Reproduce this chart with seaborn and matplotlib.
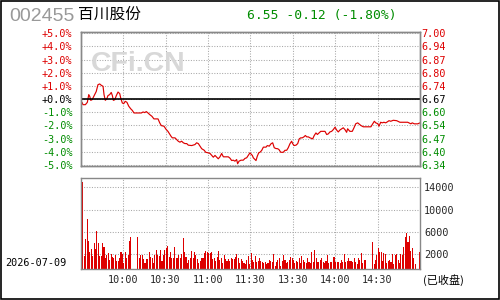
import numpy as np
import matplotlib
matplotlib.use("Agg")
import matplotlib.pyplot as plt
import seaborn as sns

# 行情数据
prev_close = 6.67
header_code = "002455"
header_name = "百川股份"
header_quote = "6.55 -0.12 (-1.80%)"
trade_date = "2026-07-09"
status_text = "(已收盘)"

pct_ticks = [5, 4, 3, 2, 1, 0, -1, -2, -3, -4, -5]

# 分时价格: 交易分钟 (0-240) 与价格
price_minutes = [
    0.9, 1.6, 3.3, 4.7, 5.7, 6.4, 7.1, 8.0, 8.7, 9.9, 11.0, 12.2, 13.4, 14.6,
    15.8, 16.5, 17.4, 18.4, 19.3, 20.5, 21.6, 22.4, 23.1, 24.1, 25.2, 26.4,
    27.6, 28.3, 29.4, 30.4, 31.5, 32.7, 34.0, 35.4, 36.5, 37.7, 42.9, 44.1,
    45.3, 46.4, 47.6, 48.8, 50.4, 51.8, 54.7, 55.9, 57.0, 58.9, 60.5, 61.7,
    63.9, 64.8, 66.7, 67.9, 69.0, 70.2, 71.4, 72.6, 73.8, 75.0, 76.1, 78.5,
    80.8, 82.0, 83.2, 84.4, 85.6, 87.4, 88.4, 90.3, 91.5, 92.7, 93.8, 95.0,
    96.2, 97.3, 98.5, 99.7, 100.9, 104.4, 105.6, 106.8, 107.9, 109.1, 110.3,
    111.0, 112.0, 113.4, 115.0, 116.2, 117.4, 118.5, 119.7, 121.4, 122.1,
    123.3, 124.0, 124.9, 125.9, 126.8, 128.0, 129.2, 131.1, 132.0, 133.4,
    134.6, 135.8, 136.9, 138.1, 139.3, 140.2, 141.5, 143.3, 144.5, 145.7,
    146.8, 148.0, 149.2, 149.9, 150.9, 152.3, 153.5, 154.6, 155.6, 156.7,
    157.9, 158.9, 159.9, 161.0, 162.2, 164.1, 165.2, 166.4, 167.4, 168.6,
    169.8, 171.6, 172.8, 174.0, 175.1, 176.3, 177.5, 178.7, 179.9, 181.1,
    182.2, 183.4, 184.6, 185.7, 186.9, 188.1, 188.8, 190.4, 192.1, 193.3,
    194.5, 195.9, 196.8, 198.3, 199.9, 205.3, 206.2, 207.7, 208.7, 210.1,
    211.0, 212.2, 213.3, 214.5, 215.7, 216.9, 218.1, 219.3, 221.1, 223.5,
    225.8, 231.3, 232.2, 233.6, 234.5, 236.0, 238.4, 240.0,
]
price_values = [
    6.654, 6.642, 6.642, 6.654, 6.693, 6.684, 6.664, 6.667, 6.676, 6.693,
    6.709, 6.743, 6.747, 6.740, 6.735, 6.693, 6.664, 6.671, 6.688, 6.693,
    6.704, 6.688, 6.664, 6.667, 6.688, 6.706, 6.698, 6.676, 6.651, 6.647,
    6.659, 6.654, 6.634, 6.621, 6.613, 6.600, 6.600, 6.605, 6.602, 6.607,
    6.600, 6.592, 6.583, 6.570, 6.570, 6.550, 6.536, 6.533, 6.516, 6.507,
    6.482, 6.474, 6.474, 6.465, 6.457, 6.452, 6.457, 6.449, 6.445, 6.445,
    6.437, 6.435, 6.440, 6.449, 6.445, 6.432, 6.419, 6.411, 6.401, 6.398,
    6.395, 6.385, 6.376, 6.385, 6.376, 6.368, 6.378, 6.395, 6.378, 6.378,
    6.371, 6.359, 6.361, 6.356, 6.364, 6.343, 6.356, 6.361, 6.361, 6.370,
    6.373, 6.385, 6.398, 6.385, 6.373, 6.364, 6.359, 6.381, 6.398, 6.401,
    6.410, 6.427, 6.427, 6.435, 6.432, 6.444, 6.449, 6.424, 6.420, 6.419,
    6.415, 6.401, 6.401, 6.411, 6.411, 6.424, 6.444, 6.457, 6.445, 6.435,
    6.437, 6.445, 6.469, 6.474, 6.474, 6.479, 6.486, 6.479, 6.479, 6.474,
    6.469, 6.486, 6.499, 6.491, 6.499, 6.507, 6.507, 6.507, 6.491, 6.494,
    6.504, 6.507, 6.516, 6.528, 6.513, 6.504, 6.514, 6.520, 6.525, 6.516,
    6.502, 6.520, 6.507, 6.507, 6.525, 6.545, 6.550, 6.545, 6.536, 6.530,
    6.530, 6.541, 6.558, 6.550, 6.546, 6.533, 6.553, 6.550, 6.553, 6.550,
    6.555, 6.561, 6.558, 6.563, 6.561, 6.553, 6.553, 6.550, 6.545, 6.550,
    6.545, 6.545, 6.550,
]

# 每分钟成交量 (上午 9:30-11:30, 下午 13:00-15:00)
vol_am = [
    2750, 15700, 2390, 5430, 9010, 5070, 3040, 3640, 2390, 4660,
    3640, 6870, 4660, 2390, 2390, 4660, 4060, 1970, 2570, 2870,
    1670, 2690, 2270, 1970, 2570, 1550, 1490, 2090, 3040, 2750,
    1070, 3040, 2090, 2570, 5070, 5790, 0, 0, 0, 0,
    5790, 1970, 2570, 2570, 1850, 1070, 1850, 1850, 3040, 2270,
    1970, 1070, 2570, 3460, 2570, 2450, 3460, 1490, 2570, 3460,
    3880, 4240, 2270, 3040, 2090, 1970, 4060, 1970, 2090, 2570,
    1970, 2690, 5670, 3040, 2270, 1070, 1670, 2090, 3280, 2090,
    3040, 2570, 1850, 1070, 1490, 2090, 1970, 2870, 3280, 3040,
    2870, 2870, 3040, 1850, 2090, 1490, 2270, 3280, 1670, 2090,
    1070, 2570, 1850, 1490, 1850, 1490, 1970, 1850, 1850, 2270,
    2690, 2090, 1070, 1850, 1490, 1070, 900, 1670, 2450, 900,
]
vol_pm = [
    2990, 1670, 1250, 2450, 1250, 1490, 2090, 1490, 1370, 1070,
    1250, 900, 1070, 1670, 1490, 1370, 2750, 660, 1250, 1670,
    2090, 660, 1490, 2570, 1670, 1070, 1250, 1670, 2270, 1970,
    1670, 1070, 1490, 1250, 1970, 1070, 2450, 1670, 1370, 1070,
    1970, 1250, 1070, 3160, 1250, 3460, 1970, 1250, 1370, 1670,
    1970, 1250, 1070, 1490, 2570, 1070, 1370, 1250, 2270, 2270,
    1370, 1250, 1250, 1070, 1670, 1370, 2750, 1250, 1490, 1970,
    1490, 1490, 1250, 1970, 1250, 900, 1970, 1670, 2990, 1070,
    1670, 1670, 0, 0, 0, 0, 4960, 900, 1670, 2570,
    3880, 3160, 3040, 1490, 2870, 2690, 1070, 1490, 1670, 1250,
    2690, 900, 2570, 2690, 1670, 1070, 2690, 2570, 4060, 5850,
    6450, 4960, 5970, 3280, 3880, 2090, 900, 0, 0, 3160,
]

time_ticks = [30, 60, 90, 120, 150, 180, 210]
time_labels = ["10:00", "10:30", "11:00", "11:30", "13:30", "14:00", "14:30"]
vol_tick_labels = ["2000", "6000", "10000", "14000"]
vol_tick_pos = [2700, 6700, 10700, 14700]

RED = "#dd0000"
GREEN = "#008c00"
GRID = "#a8a8a8"
FRAME = "#888888"

sns.set_style("white")
plt.rcParams["font.family"] = ["DejaVu Sans Mono", "Noto Sans CJK SC"]

W, H = 500, 300
fig = plt.figure(figsize=(W / 100, H / 100), dpi=100)


def box(x0, y0, x1, y1):
    # 像素坐标 -> figure 比例
    return [x0 / W, 1 - y1 / H, (x1 - x0) / W, (y1 - y0) / H]


ax = fig.add_axes(box(80.7, 32.3, 420, 166))
axv = fig.add_axes(box(80.7, 178.3, 420, 269.3))
ax_pct = ax.twinx()

# ---- 价格 ----
lo = prev_close * 0.95 - 0.005
hi = prev_close * 1.05 + 0.005
sns.lineplot(x=price_minutes, y=price_values, ax=ax, color=RED, linewidth=0.85)
ax.axhline(prev_close, color="black", linewidth=1.2, zorder=3)
ax.set_xlim(0, 240)
ax.set_ylim(lo, hi)
price_ticks = [prev_close * (1 + p / 100) for p in pct_ticks]
ax.set_yticks(price_ticks)
ax.set_yticklabels([f"{v:.2f}" for v in price_ticks])
ax.set_xticks(time_ticks)
ax.set_xticklabels([])
ax.yaxis.tick_right()
ax.tick_params(axis="both", length=0, labelsize=7.3, pad=1.2)
for lab, p in zip(ax.get_yticklabels(), pct_ticks):
    lab.set_color(RED if p > 0 else (GREEN if p < 0 else "black"))
ax.grid(True, color=GRID, linestyle=(0, (1, 1.5)), linewidth=0.75)
ax.set_xlabel("")
ax.set_ylabel("")

ax_pct.set_ylim((lo / prev_close - 1) * 100, (hi / prev_close - 1) * 100)
ax_pct.set_yticks(pct_ticks)
ax_pct.set_yticklabels([f"{p:+.1f}%" for p in pct_ticks])
ax_pct.yaxis.tick_left()
ax_pct.tick_params(axis="y", length=0, labelsize=7.3, pad=6)
for lab, p in zip(ax_pct.get_yticklabels(), pct_ticks):
    lab.set_color(RED if p > 0 else (GREEN if p < 0 else "black"))

for a in (ax, ax_pct):
    for s in a.spines.values():
        s.set_color(FRAME)
        s.set_linewidth(1.0)

# ---- 成交量 ----
vol = vol_am + vol_pm
vol_minutes = np.arange(len(vol)) + 0.5
sns.histplot(x=vol_minutes, weights=vol, bins=240, binrange=(0, 240),
             shrink=0.75, color=RED, alpha=1, linewidth=0, ax=axv)
axv.set_xlim(0, 240)
axv.set_ylim(0, 16300)
axv.set_xticks(time_ticks)
axv.set_xticklabels(time_labels)
axv.set_yticks(vol_tick_pos)
axv.set_yticklabels(vol_tick_labels)
axv.yaxis.tick_right()
axv.tick_params(axis="both", length=0, labelsize=7.3)
axv.tick_params(axis="y", pad=3)
axv.tick_params(axis="x", pad=4)
axv.grid(True, color=GRID, linestyle=(0, (1, 1.5)), linewidth=0.75)
axv.set_axisbelow(True)
axv.set_xlabel("")
axv.set_ylabel("")
for s in axv.spines.values():
    s.set_color(FRAME)
    s.set_linewidth(1.0)

# ---- 文字 ----
fig.text(9 / W, 1 - 16.5 / H, header_code, fontsize=14, color="#999999",
         family="Liberation Sans", va="center", ha="left")
fig.text(78 / W, 1 - 14.5 / H, header_name, fontsize=11.3, color="black",
         family="Noto Sans CJK SC", va="center", ha="left")
fig.text(322 / W, 1 - 15 / H, header_quote, fontsize=9.4, color=GREEN,
         va="center", ha="center")
fig.text(138 / W, 1 - 64 / H, "CFi.CN", fontsize=20.5, color="#d8d8d8",
         family="Liberation Sans", weight="bold", va="center", ha="center")
fig.text(36 / W, 1 - 263.5 / H, trade_date, fontsize=7.3, color="black",
         va="center", ha="center")
fig.text(423 / W, 1 - 280 / H, status_text, fontsize=8, color="black",
         family=["Noto Sans CJK SC"], va="center", ha="left")

# 外框
fig.patches.append(plt.Rectangle((0.001, 0.002), 0.997, 0.996, transform=fig.transFigure,
                                 fill=False, edgecolor="black", linewidth=1.2))

fig.savefig("out.png", dpi=100)
